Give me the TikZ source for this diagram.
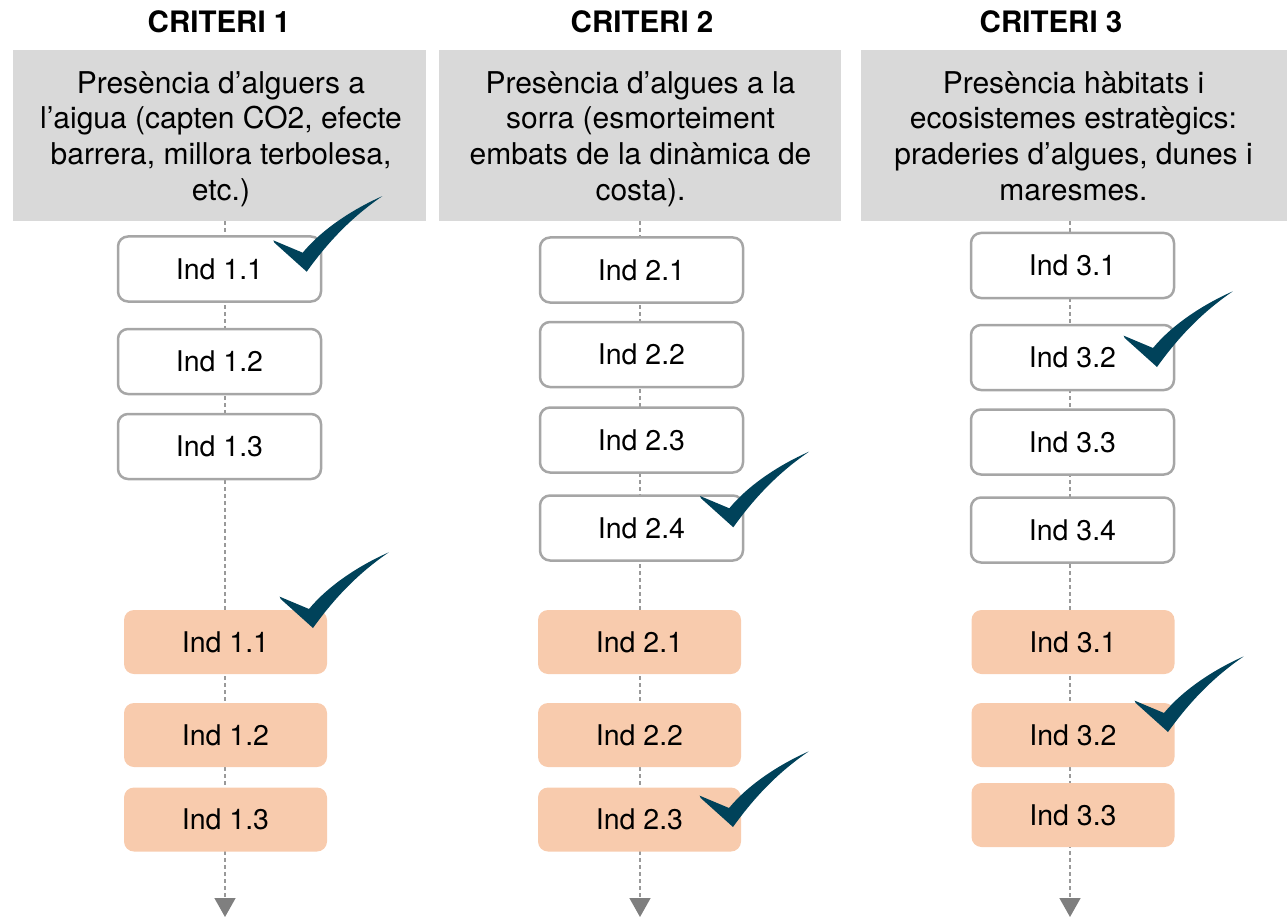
\documentclass[tikz,border=0pt]{standalone}
\usepackage{fontspec}
\setmainfont{TeX Gyre Heros}
\usetikzlibrary{arrows.meta}
\definecolor{hdrgray}{HTML}{D9D9D9}
\definecolor{boxline}{HTML}{A6A6A6}
\definecolor{orangefill}{HTML}{F8CBAD}
\definecolor{tickcol}{HTML}{00425A}
\definecolor{flowgray}{HTML}{999999}
\definecolor{tipgray}{HTML}{7F7F7F}
\begin{document}
\begin{tikzpicture}[x=1pt,y=-1pt,
  crit/.style={font=\bfseries\fontsize{29.5}{35}\selectfont, anchor=base, inner sep=0pt},
  hdrbox/.style={fill=hdrgray, inner sep=0pt, anchor=north west, minimum height=171pt},
  hdrtext/.style={font=\fontsize{30}{35.8}\selectfont, align=center, anchor=north, inner sep=0pt},
  wbox/.style={draw=boxline, line width=2.5pt, fill=white, rounded corners=10pt, minimum width=203pt, minimum height=65pt, inner sep=0pt, font=\fontsize{28.5}{34}\selectfont},
  obox/.style={fill=orangefill, rounded corners=10pt, minimum width=203pt, minimum height=64pt, inner sep=0pt, font=\fontsize{28.5}{34}\selectfont},
  flow/.style={draw=flowgray, line width=1.5pt, dash pattern=on 4pt off 3pt, -{Triangle[width=21pt,length=19pt,color=tipgray]}},
  tick/.pic={\fill[tickcol] (0,0) -- (-32.3,-29) -- (-33.3,-31.3) -- (-4,-19) .. controls (15,-42) and (45,-62) .. (75.7,-75.6) .. controls (50,-58) and (25,-35) .. (0,0) -- cycle;}
]
\useasboundingbox (0,0) rectangle (1287,917);

% titles
\node[crit] (c1) at (219,33) {CRITERI 1};
\node[crit] (c2) at (642,33) {CRITERI 2};
\node[crit] (c3) at (1051,33) {CRITERI 3};

% header boxes
\node[hdrbox, minimum width=413pt] (g1) at (13,50) {};
\node[hdrbox, minimum width=402pt] (g2) at (439,50) {};
\node[hdrbox, minimum width=426pt] (g3) at (861,50) {};

\node[hdrtext] (t1) at (221,71) {Presència d’alguers a\\l’aigua (capten CO2, efecte\\barrera, millora terbolesa,\\etc.)};
\node[hdrtext] (t2) at (640.5,71) {Presència d’algues a la\\sorra (esmorteiment\\embats de la dinàmica de\\costa).};
\node[hdrtext] (t3) at (1073.5,71) {Presència hàbitats i\\ecosistemes estratègics:\\praderies d’algues, dunes i\\maresmes.};

% flow lines
\coordinate (e1) at (225,917);
\coordinate (e2) at (640,917);
\coordinate (e3) at (1070,917);
\draw[flow] (g1.south -| e1) -- (e1);
\draw[flow] (g2.south -| e2) -- (e2);
\draw[flow] (g3.south -| e3) -- (e3);

% white boxes
\node[wbox] (w11) at (219.5,269) {Ind 1.1};
\node[wbox] (w12) at (219.5,361.5) {Ind 1.2};
\node[wbox] (w13) at (219.5,446.5) {Ind 1.3};

\node[wbox] (w21) at (641.5,270) {Ind 2.1};
\node[wbox] (w22) at (641.5,354.5) {Ind 2.2};
\node[wbox] (w23) at (641.5,440) {Ind 2.3};
\node[wbox] (w24) at (641.5,528) {Ind 2.4};

\node[wbox] (w31) at (1072.5,265.5) {Ind 3.1};
\node[wbox] (w32) at (1072.5,357.5) {Ind 3.2};
\node[wbox] (w33) at (1072.5,442) {Ind 3.3};
\node[wbox] (w34) at (1072.5,530) {Ind 3.4};

% orange boxes
\node[obox] (o11) at (225.5,642) {Ind 1.1};
\node[obox] (o12) at (225.5,735) {Ind 1.2};
\node[obox] (o13) at (225.5,819.5) {Ind 1.3};

\node[obox] (o21) at (639.5,642) {Ind 2.1};
\node[obox] (o22) at (639.5,735) {Ind 2.2};
\node[obox] (o23) at (639.5,819.5) {Ind 2.3};

\node[obox] (o31) at (1073,642) {Ind 3.1};
\node[obox] (o32) at (1073,735) {Ind 3.2};
\node[obox] (o33) at (1073,815) {Ind 3.3};

% check marks
\pic (k1) at (306.7,271.7) {tick};
\pic (k2) at (313,628) {tick};
\pic (k3) at (1157,367) {tick};
\pic (k4) at (733.3,527.3) {tick};
\pic (k5) at (1168,732) {tick};
\pic (k6) at (733,827) {tick};
\end{tikzpicture}
\end{document}
